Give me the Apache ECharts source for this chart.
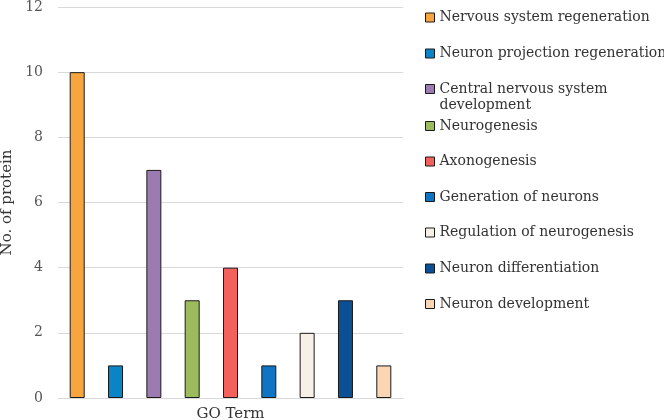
<!DOCTYPE html>
<html>
<head>
<meta charset="utf-8">
<script src="https://cdn.jsdelivr.net/npm/echarts@6/dist/echarts.min.js"></script>
<style>html,body{margin:0;padding:0;background:#fff}#c{width:664px;height:420px}</style>
</head>
<body>
<div id="c"></div>
<script>
var categories = ['GO Term'];
var seriesNames = ['Nervous system regeneration','Neuron projection regeneration','Central nervous system development','Neurogenesis','Axonogenesis','Generation of neurons','Regulation of neurogenesis','Neuron differentiation','Neuron development'];
var seriesValues = [10, 1, 7, 3, 4, 1, 2, 3, 1];
var colors = ['#F9A53F','#0B84C6','#9C7BB1','#9BBB5C','#F2615B','#1074C2','#F7F0E6','#0B4F95','#FCD5B4'];
var legendLabels = ['Nervous system regeneration','Neuron projection regeneration','\nCentral nervous system\ndevelopment','Neurogenesis','Axonogenesis','Generation of neurons','Regulation of neurogenesis','Neuron differentiation','Neuron development'];
var legendCenters = [17.5, 53.5, 89.5, 126, 161.5, 197, 232.5, 268.5, 304];
var yTicks = {min: 0, max: 12, interval: 2};

var font = 'DejaVu Serif';
var series = seriesNames.map(function (n, i) {
  return {
    name: n, type: 'bar', data: [seriesValues[i]],
    barWidth: 15, barGap: '155.5%',
    itemStyle: {color: colors[i], borderColor: '#1a1a1a', borderWidth: 1},
    emphasis: {disabled: true}
  };
});
var legends = seriesNames.map(function (n, i) {
  var twoLine = legendLabels[i].indexOf('\n') >= 0;
  return {
    data: [n], orient: 'vertical', left: 425,
    top: twoLine ? legendCenters[i] - 4.5 - 20 : legendCenters[i] - 7.5,
    padding: 0, itemWidth: 9, itemHeight: 9, itemGap: 0,
    selectedMode: false, icon: 'rect',
    itemStyle: {borderColor: '#1a1a1a', borderWidth: 1},
    formatter: function () { return legendLabels[i]; },
    textStyle: twoLine
      ? {fontFamily: font, fontSize: 14, color: '#333', lineHeight: 16}
      : {fontFamily: font, fontSize: 14, color: '#333', lineHeight: 15}
  };
});
var chart = echarts.init(document.getElementById('c'), null, {renderer: 'canvas'});
chart.setOption({
  animation: false,
  backgroundColor: '#fff',
  grid: {left: 58, right: 261, top: 7, bottom: 22, containLabel: false, outerBoundsMode: 'none'},
  legend: legends,
  xAxis: {
    type: 'category', data: categories,
    axisLine: {show: true, lineStyle: {color: '#D9D9D9', width: 1}},
    axisTick: {show: false},
    axisLabel: {fontFamily: font, fontSize: 15, color: '#333', margin: 9}
  },
  yAxis: {
    type: 'value', min: yTicks.min, max: yTicks.max, interval: yTicks.interval,
    name: 'No. of protein', nameLocation: 'middle', nameGap: 37,
    nameTextStyle: {fontFamily: font, fontSize: 15, color: '#333'},
    axisLine: {show: false}, axisTick: {show: false},
    axisLabel: {fontFamily: font, fontSize: 14, color: '#555', margin: 15},
    splitLine: {lineStyle: {color: '#D9D9D9', width: 1}}
  },
  series: series
});
</script>
</body>
</html>
